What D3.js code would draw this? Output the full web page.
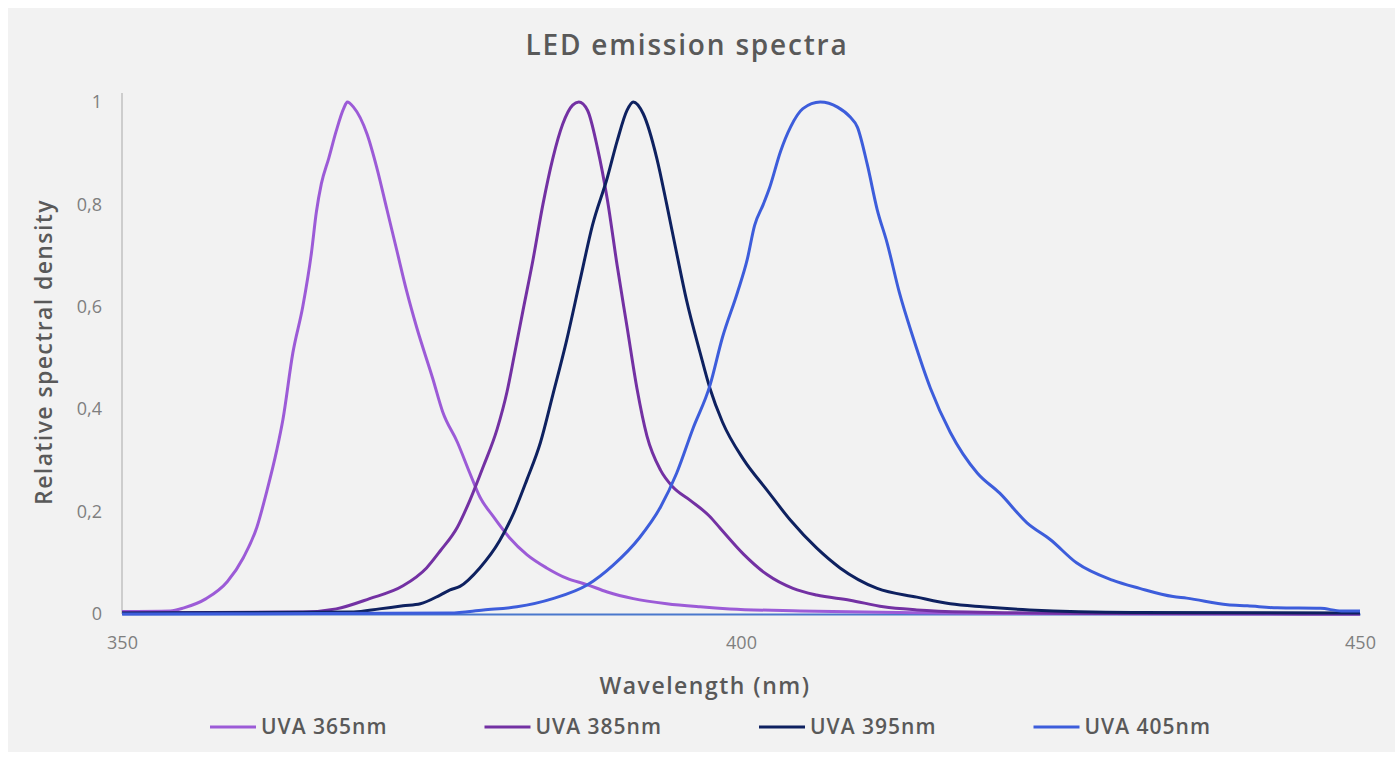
<!DOCTYPE html>
<html>
<head>
<meta charset="utf-8">
<script src="https://cdn.jsdelivr.net/npm/d3@7"></script>
<style>
  html, body { margin: 0; padding: 0; background: #ffffff; }
  svg { display: block; font-family: "Open Sans", "Lato", sans-serif; }
</style>
</head>
<body>
<div id="chart"></div>
<script>
// wavelength (nm) and relative density
const wl365 = [350, 353.9, 355, 356.8, 358.5, 359.8, 360.9, 361.7, 362.5, 363, 363.8, 364.6, 365.3, 365.7, 366.1, 366.7, 367.3, 367.9, 368.2, 368.7, 369.8, 370.6, 371.4, 372.2, 373, 373.8, 375.1, 375.9, 377.1, 378.1, 378.9, 380, 381.3, 382.7, 384.3, 385.9, 387.6, 389.2, 391.3, 394, 396.7, 399.1, 404.8, 412.8, 420.9, 450];
const v365 = [0.005, 0.006, 0.012, 0.03, 0.063, 0.11, 0.17, 0.24, 0.32, 0.38, 0.51, 0.6, 0.705, 0.785, 0.84, 0.89, 0.943, 0.987, 1, 0.99, 0.937, 0.87, 0.79, 0.71, 0.63, 0.56, 0.46, 0.395, 0.335, 0.275, 0.229, 0.19, 0.149, 0.116, 0.09, 0.07, 0.057, 0.043, 0.03, 0.02, 0.014, 0.01, 0.006, 0.003, 0.001, 0];

const wl385 = [350, 364.6, 367.3, 370, 372.7, 374.6, 375.7, 377.1, 378.1, 379.2, 380.3, 381.1, 381.7, 382.4, 383.2, 384, 384.8, 385.6, 386.4, 386.9, 387.6, 388.4, 389.2, 390, 390.8, 391.6, 392.4, 393.5, 394.5, 395.9, 397.5, 398.3, 400.2, 402.1, 404.2, 406.1, 408.8, 411.5, 414.2, 418.3, 429, 450];
const v385 = [0.002, 0.004, 0.01, 0.03, 0.055, 0.09, 0.123, 0.17, 0.222, 0.289, 0.361, 0.434, 0.507, 0.594, 0.692, 0.8, 0.89, 0.957, 0.994, 1, 0.984, 0.911, 0.81, 0.68, 0.56, 0.44, 0.348, 0.281, 0.248, 0.222, 0.19, 0.168, 0.117, 0.077, 0.05, 0.037, 0.027, 0.014, 0.008, 0.004, 0.001, 0];

const wl395 = [350, 368.7, 370.8, 372.7, 374.1, 375.7, 376.5, 377.3, 378.9, 380.5, 381.6, 382.7, 383.8, 384.8, 385.9, 387, 388, 389.2, 390, 390.8, 391.3, 392.1, 393.2, 394, 394.8, 395.6, 396.7, 397.5, 398.5, 400.2, 402.1, 404, 406.1, 408, 411, 414.2, 416.9, 419.5, 423.3, 431.7, 450];
const v395 = [0.002, 0.004, 0.01, 0.016, 0.02, 0.037, 0.047, 0.054, 0.09, 0.143, 0.195, 0.262, 0.335, 0.428, 0.533, 0.652, 0.759, 0.852, 0.924, 0.984, 1, 0.977, 0.89, 0.8, 0.705, 0.613, 0.51, 0.44, 0.375, 0.302, 0.242, 0.183, 0.129, 0.09, 0.05, 0.033, 0.02, 0.014, 0.008, 0.003, 0.002];

const wl405 = [350, 376.5, 379.2, 381.9, 384.8, 387.6, 389.7, 391.8, 393.5, 394.8, 396.1, 397.5, 398.5, 399.7, 400.5, 401.1, 401.8, 402.3, 403.2, 404, 405, 406.4, 407.8, 408.8, 409.4, 410.2, 411, 411.8, 412.8, 413.9, 415.3, 416.9, 419.1, 420.9, 423.1, 425, 427.1, 430, 432.2, 434.9, 436, 439.3, 440.9, 443.3, 446.8, 448.5, 450];
const v405 = [0, 0.002, 0.008, 0.014, 0.03, 0.057, 0.096, 0.149, 0.209, 0.275, 0.361, 0.447, 0.54, 0.627, 0.692, 0.759, 0.8, 0.832, 0.904, 0.951, 0.987, 1, 0.99, 0.971, 0.951, 0.878, 0.79, 0.725, 0.627, 0.54, 0.441, 0.355, 0.275, 0.236, 0.178, 0.145, 0.1, 0.066, 0.05, 0.034, 0.031, 0.018, 0.016, 0.012, 0.011, 0.006, 0.006];

const seriesNames = ["UVA 365nm", "UVA 385nm", "UVA 395nm", "UVA 405nm"];
const seriesColors = ["#9c5bd7", "#7331a3", "#0e2160", "#3d5ddb"];
const xTicks = [350, 400, 450];
const yTicks = [0, 0.2, 0.4, 0.6, 0.8, 1];

const series = [
    { name: seriesNames[0], wl: wl365, v: v365 },
    { name: seriesNames[1], wl: wl385, v: v385 },
    { name: seriesNames[2], wl: wl395, v: v395 },
    { name: seriesNames[3], wl: wl405, v: v405 }
];

const width = 1395;
const height = 758;
const margin = { top: 102, right: 35, bottom: 144, left: 122 };

const svg = d3.select("#chart")
    .append("svg")
    .attr("width", width)
    .attr("height", height);

// chart area background
svg.append("rect")
    .attr("x", 8).attr("y", 8)
    .attr("width", width - 8).attr("height", 744)
    .attr("fill", "#f2f2f2");

const x = d3.scaleLinear().domain([350, 450]).range([margin.left, width - margin.right]);
const y = d3.scaleLinear().domain([0, 1]).range([height - margin.bottom, margin.top]);

const textColor = "#595959";

// title
svg.append("text")
    .attr("x", 687).attr("y", 55)
    .attr("text-anchor", "middle")
    .attr("fill", textColor)
    .style("font-size", "28px")
    .style("font-weight", "600")
    .style("letter-spacing", "1.8px")
    .text("LED emission spectra");

// y axis
const yAxis = svg.append("g")
    .attr("transform", `translate(${margin.left},0)`)
    .call(d3.axisLeft(y).tickValues(yTicks).tickSize(0).tickPadding(20)
        .tickFormat(d => d3.format("~g")(d).replace(".", ",")));
yAxis.select(".domain")
    .attr("d", `M0,${y(1) - 9}V${y(0)}`)
    .attr("stroke", "#c0c0c0")
    .attr("stroke-width", 1.5);
yAxis.selectAll("text")
    .attr("fill", "#7f7f7f")
    .style("font-size", "18px")
    .style("font-family", "'Open Sans', sans-serif");

// x axis
const xAxis = svg.append("g")
    .attr("transform", `translate(0,${y(0)})`)
    .call(d3.axisBottom(x).tickValues(xTicks).tickSize(0).tickPadding(22));
xAxis.select(".domain")
    .attr("stroke", "#4a78cc")
    .attr("stroke-width", 2);
xAxis.selectAll("text")
    .attr("fill", "#7f7f7f")
    .style("font-size", "18px")
    .style("font-family", "'Open Sans', sans-serif");

// axis titles
svg.append("text")
    .attr("x", 705).attr("y", 694)
    .attr("text-anchor", "middle")
    .attr("fill", textColor)
    .style("font-size", "23px")
    .style("font-weight", "600")
    .style("letter-spacing", "1.5px")
    .text("Wavelength (nm)");

svg.append("text")
    .attr("transform", "translate(52,352) rotate(-90)")
    .attr("text-anchor", "middle")
    .attr("fill", textColor)
    .style("font-size", "23px")
    .style("font-weight", "600")
    .style("letter-spacing", "1.4px")
    .text("Relative spectral density");

// curves
const line = d3.line()
    .x(d => x(d[0]))
    .y(d => y(d[1]))
    .curve(d3.curveMonotoneX);

svg.append("g")
    .selectAll("path")
    .data(series)
    .enter().append("path")
    .attr("fill", "none")
    .attr("stroke", (d, i) => seriesColors[i])
    .attr("stroke-width", 3)
    .attr("stroke-linejoin", "round")
    .attr("d", d => line(d.wl.map((w, i) => [w, d.v[i]])));

// legend
const legend = svg.append("g")
    .selectAll("g")
    .data(series)
    .enter().append("g")
    .attr("transform", (d, i) => `translate(${210 + i * 274.5},727)`);

legend.append("line")
    .attr("x1", 0).attr("x2", 46)
    .attr("stroke", (d, i) => seriesColors[i])
    .attr("stroke-width", 3);

legend.append("text")
    .attr("x", 51).attr("y", 7)
    .attr("fill", textColor)
    .style("font-size", "21px")
    .style("font-weight", "600")
    .style("letter-spacing", "1px")
    .text(d => d.name);
</script>
</body>
</html>
